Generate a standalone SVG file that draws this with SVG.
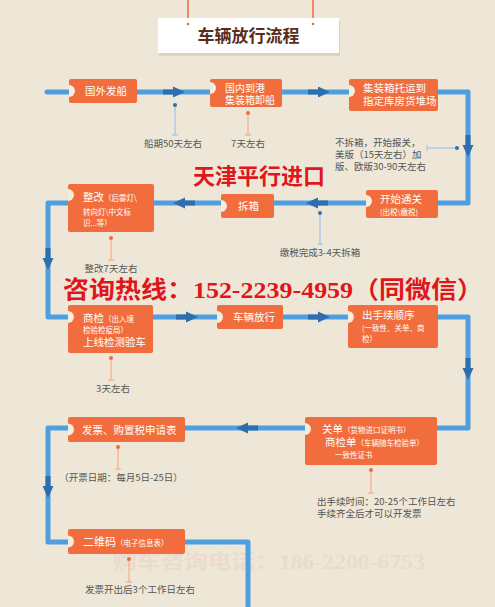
<svg xmlns="http://www.w3.org/2000/svg" width="495" height="607" viewBox="0 0 495 607">
<defs>
<style>
.box{fill:#f26d3d;}
.semi{fill:#f4ecdc;}
.bt{fill:#ffffff;font-family:"Noto Sans CJK SC","Noto Sans",sans-serif;}
.s{font-size:7.5px;}
.ann{fill:#555555;font-family:"Noto Sans CJK SC","Noto Sans",sans-serif;font-size:9.5px;}
.bl{stroke:#8fbde8;stroke-width:1;fill:none;}
.ol{stroke:#f4a27e;stroke-width:1;fill:none;}
.bd{fill:#2f6fb8;}
.od{fill:#f06a3c;}
.pipe{fill:none;stroke:#4e9fe0;stroke-width:5;stroke-linejoin:round;stroke-linecap:round;}
</style>
<g id="arrowR">
<rect x="-22" y="-2.5" width="12" height="5" fill="#2e6eae"/>
<polygon points="-12,-5.5 0,0 -12,5.5" fill="#2e6eae"/>
</g>
</defs>
<rect x="0" y="0" width="495" height="607" fill="#eee7d7"/>

<g id="title">
<line x1="188" y1="0" x2="188" y2="24" stroke="#f06a3c" stroke-width="1.5"/>
<line x1="313" y1="0" x2="313" y2="24" stroke="#f06a3c" stroke-width="1.5"/>
<rect x="159" y="21" width="181" height="35" fill="#dcd3bf"/>
<rect x="158" y="18" width="181" height="35" fill="#ffffff"/>
<circle cx="188" cy="24" r="1.3" fill="#f06a3c"/>
<circle cx="313" cy="24" r="1.3" fill="#f06a3c"/>
<text x="248.5" y="42" text-anchor="middle" font-family="Noto Sans CJK SC, sans-serif" font-weight="bold" font-size="17" fill="#5a2c1a">车辆放行流程</text>
</g>

<text x="113" y="569" font-family="Liberation Serif, Noto Sans CJK SC, serif" font-weight="bold" font-size="20" fill="#e8d2c6" opacity="0.55" textLength="312" lengthAdjust="spacingAndGlyphs">购车咨询电话：186-2200-6753</text>

<g id="connectors">
<path class="pipe" d="M47,92 H468 V203 H48 V317 H468 V428 H48 V542 H248 V610"/>
<use href="#arrowR" transform="translate(185,92)"/>
<use href="#arrowR" transform="translate(330,92)"/>
<use href="#arrowR" transform="translate(468,157) rotate(90)"/>
<use href="#arrowR" transform="translate(306,203) rotate(180)"/>
<use href="#arrowR" transform="translate(173,203) rotate(180)"/>
<use href="#arrowR" transform="translate(48,270) rotate(90)"/>
<use href="#arrowR" transform="translate(198,317)"/>
<use href="#arrowR" transform="translate(330,317)"/>
<use href="#arrowR" transform="translate(468,380) rotate(90)"/>
<use href="#arrowR" transform="translate(236,428) rotate(180)"/>
<use href="#arrowR" transform="translate(48,498) rotate(90)"/>
</g>

<g id="n1">
<rect class="box" x="69" y="79" width="68" height="24" rx="2"/>
<path class="semi" d="M69,85 A6,6 0 0 1 69,97 Z"/>
<text class="bt" x="85" y="95" font-size="10.5">国外发船</text>
</g>
<g id="n2">
<rect class="box" x="210" y="79" width="72" height="28" rx="2"/>
<path class="semi" d="M210,82 A6,6 0 0 1 210,94 Z"/>
<text class="bt" x="225" y="91.5" font-size="10">国内到港</text>
<text class="bt" x="225" y="104" font-size="10">集装箱卸船</text>
</g>
<g id="n3">
<rect class="box" x="349" y="79" width="89" height="32" rx="2"/>
<path class="semi" d="M349,85 A6,6 0 0 1 349,97 Z"/>
<text class="bt" x="363" y="92" font-size="10.5">集装箱托运到</text>
<text class="bt" x="363" y="105" font-size="10.5">指定库房货堆场</text>
</g>
<g id="n4">
<rect class="box" x="366" y="190" width="72" height="28" rx="2"/>
<path class="semi" d="M366,195 A6,6 0 0 1 366,207 Z"/>
<text class="bt" x="380" y="203" font-size="10.5">开始通关</text>
<text class="bt" x="380" y="215" font-size="7.5">(出税\缴税)</text>
</g>
<g id="n5">
<rect class="box" x="221" y="194" width="53" height="24" rx="2"/>
<path class="semi" d="M221,200 A6,6 0 0 1 221,212 Z"/>
<text class="bt" x="238" y="210" font-size="10.5">拆箱</text>
</g>
<g id="n6">
<rect class="box" x="68" y="184" width="86" height="48" rx="2"/>
<path class="semi" d="M68,189 A6,6 0 0 1 68,201 Z"/>
<text class="bt" x="83" y="201" font-size="10.5">整改<tspan class="s">（后雾灯\</tspan></text>
<text class="bt" x="83" y="215" font-size="7.5">转向灯\中文标</text>
<text class="bt" x="83" y="226" font-size="7.5">识...等）</text>
</g>
<g id="n7">
<rect class="box" x="68" y="305" width="85" height="48" rx="2"/>
<path class="semi" d="M68,311 A6,6 0 0 1 68,323 Z"/>
<text class="bt" x="83" y="322" font-size="10.5">商检<tspan class="s">（出入境</tspan></text>
<text class="bt" x="83" y="333" font-size="7.5">检验检疫局）</text>
<text class="bt" x="83" y="346" font-size="10.5">上线检测验车</text>
</g>
<g id="n8">
<rect class="box" x="217" y="305" width="66" height="24" rx="2"/>
<path class="semi" d="M217,311 A6,6 0 0 1 217,323 Z"/>
<text class="bt" x="233" y="321" font-size="10.5">车辆放行</text>
</g>
<g id="n9">
<rect class="box" x="348" y="305" width="90" height="43" rx="2"/>
<path class="semi" d="M348,311 A6,6 0 0 1 348,323 Z"/>
<text class="bt" x="362" y="319" font-size="10.5">出手续顺序</text>
<text class="bt" x="362" y="331" font-size="7.5">(一致性、关单、商</text>
<text class="bt" x="362" y="342" font-size="7.5">检）</text>
</g>
<g id="n10">
<rect class="box" x="305" y="417" width="132" height="48" rx="2"/>
<path class="semi" d="M305,423 A6,6 0 0 1 305,435 Z"/>
<text class="bt" x="322" y="433" font-size="10.5">关单<tspan class="s">（货物进口证明书）</tspan></text>
<text class="bt" x="325" y="446" font-size="10.5">商检单<tspan class="s">（车辆随车检验单）</tspan></text>
<text class="bt" x="335" y="457.5" font-size="7.5">一致性证书</text>
</g>
<g id="n11">
<rect class="box" x="68" y="417" width="117" height="25" rx="2"/>
<path class="semi" d="M68,423.5 A6,6 0 0 1 68,435.5 Z"/>
<text class="bt" x="82" y="433.5" font-size="10.5">发票、购置税申请表</text>
</g>
<g id="n12">
<rect class="box" x="68" y="529" width="117" height="25" rx="2"/>
<path class="semi" d="M68,535.5 A6,6 0 0 1 68,547.5 Z"/>
<text class="bt" x="83" y="546" font-size="11">二维码<tspan class="s">（电子信息表）</tspan></text>
</g>

<g id="annotations">
<line class="bl" x1="175" y1="105" x2="175" y2="135"/><line class="bl" x1="172" y1="135" x2="178" y2="135"/><circle class="bd" cx="175" cy="105" r="2"/>
<text class="ann" x="173" y="146.5" text-anchor="middle">船期50天左右</text>
<line class="ol" x1="248" y1="113" x2="248" y2="135"/><line class="ol" x1="245" y1="135" x2="251" y2="135"/><circle class="od" cx="248" cy="113" r="2"/>
<text class="ann" x="248" y="146.5" text-anchor="middle">7天左右</text>
<line class="bl" x1="427" y1="148" x2="457" y2="148"/><line class="bl" x1="427" y1="145" x2="427" y2="151"/><circle class="bd" cx="457" cy="148" r="2"/>
<text class="ann" x="335" y="146">不拆箱，开始报关，</text>
<text class="ann" x="335" y="158">美版（15天左右）加</text>
<text class="ann" x="335" y="170">版、欧版30-90天左右</text>
<line class="bl" x1="320" y1="213" x2="320" y2="244"/><line class="bl" x1="317" y1="244" x2="323" y2="244"/><circle class="bd" cx="320" cy="213" r="2"/>
<text class="ann" x="320" y="255.5" text-anchor="middle">缴税完成3-4天拆箱</text>
<line class="ol" x1="111" y1="238" x2="111" y2="260"/><line class="ol" x1="108" y1="260" x2="114" y2="260"/><circle class="od" cx="111" cy="238" r="2"/>
<text class="ann" x="111" y="271.5" text-anchor="middle">整改7天左右</text>
<line class="ol" x1="111" y1="358" x2="111" y2="380"/><line class="ol" x1="108" y1="380" x2="114" y2="380"/><circle class="od" cx="111" cy="358" r="2"/>
<text class="ann" x="113" y="391.5" text-anchor="middle">3天左右</text>
<line class="ol" x1="371" y1="470" x2="371" y2="493"/><line class="ol" x1="368" y1="493" x2="374" y2="493"/><circle class="od" cx="371" cy="470" r="2"/>
<text class="ann" x="317" y="505">出手续时间：20-25个工作日左右</text>
<text class="ann" x="317" y="517">手续齐全后才可以开发票</text>
<line class="ol" x1="118" y1="447" x2="118" y2="469"/><line class="ol" x1="115" y1="469" x2="121" y2="469"/><circle class="od" cx="118" cy="447" r="2"/>
<text class="ann" x="121" y="480.5" text-anchor="middle">（开票日期：每月5日-25日）</text>
<line class="ol" x1="129" y1="559" x2="129" y2="582"/><line class="ol" x1="126" y1="582" x2="132" y2="582"/><circle class="od" cx="129" cy="559" r="2"/>
<text class="ann" x="140" y="592.5" text-anchor="middle">发票开出后3个工作日左右</text>
</g>

<g id="overlay-text">
<text x="193" y="184" font-family="Noto Sans CJK SC, sans-serif" font-weight="bold" font-size="22" fill="#e0161b" textLength="132" lengthAdjust="spacingAndGlyphs">天津平行进口</text>
<text x="63" y="298" font-family="Liberation Serif, Noto Sans CJK SC, serif" font-weight="bold" font-size="24" fill="#e0161b" textLength="420" lengthAdjust="spacingAndGlyphs">咨询热线：152-2239-4959（同微信）</text>
</g>
</svg>
